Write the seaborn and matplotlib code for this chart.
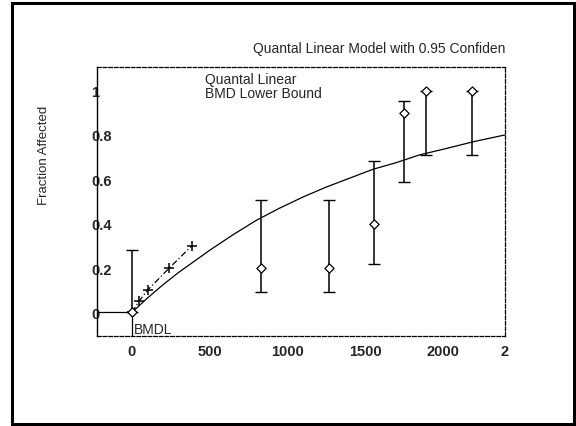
import numpy as np
import matplotlib
matplotlib.use("Agg")
import matplotlib.pyplot as plt
import seaborn as sns
from matplotlib.patches import Rectangle

# ============================================================
# DATA
# ============================================================

doses = [0, 830, 1270, 1560, 1750, 1890, 2185]
observed = [0.0, 0.2, 0.2, 0.4, 0.9, 1.0, 1.0]
ci_lower = [0.0, 0.09, 0.09, 0.22, 0.59, 0.71, 0.71]
ci_upper = [0.283, 0.507, 0.507, 0.684, 0.952, 1.0, 1.0]

fit_dose = [0, 100, 200, 300, 500, 650, 800, 950, 1100, 1250,
            1400, 1550, 1700, 1850, 2000, 2200, 2400]
fit_frac = [0.0, 0.065, 0.125, 0.18, 0.28, 0.35, 0.415, 0.47, 0.52, 0.565,
            0.605, 0.645, 0.675, 0.71, 0.735, 0.77, 0.80]

bmdl_dose = [0, 45, 100, 240, 385]
bmdl_frac = [0.0, 0.05, 0.1, 0.2, 0.3]

bmd_x = 0
bmr_level = 0.0

x_ticks = [0, 500, 1000, 1500, 2000, 2400]
x_tick_labels = ["0", "500", "1000", "1500", "2000", "2"]
y_ticks = [0, 0.2, 0.4, 0.6, 0.8, 1.0]
y_tick_labels = ["0", "0.2", "0.4", "0.6", "0.8", "1"]

# ============================================================
# STYLE
# ============================================================

sns.set_style("white")
plt.rcParams["font.family"] = ["Liberation Sans", "DejaVu Sans"]

fig = plt.figure(figsize=(5.76, 4.27), dpi=100)
ax = fig.add_axes([0.1684, 0.2115, 0.7083, 0.6286])

XMIN, XMAX = -225, 2400
YMIN, YMAX = -0.105, 1.105

# ============================================================
# PLOT
# ============================================================

# fitted quantal linear curve
sns.lineplot(x=fit_dose, y=fit_frac, ax=ax, color="black",
             linewidth=0.9, sort=False)

# BMD lower bound curve
sns.lineplot(x=bmdl_dose, y=bmdl_frac, ax=ax, color="black",
             linewidth=0.9, sort=False, linestyle=(0, (5, 2, 1, 2)),
             marker="+", markersize=7, markeredgewidth=1.1,
             markeredgecolor="black")

# confidence bars
ax.errorbar(
    doses, observed,
    yerr=[np.array(observed) - np.array(ci_lower),
          np.array(ci_upper) - np.array(observed)],
    fmt="none", ecolor="black", elinewidth=1.1, capsize=4, capthick=1.0
)

# observed fractions
sns.scatterplot(x=doses, y=observed, ax=ax, marker="D", s=22,
                facecolor="white", edgecolor="black", linewidth=0.9,
                zorder=5)

# BMDL indicator lines
ax.plot([XMIN, bmd_x], [bmr_level, bmr_level], color="black", linewidth=0.9)
ax.plot([bmd_x, bmd_x], [bmr_level, YMIN], color="black", linewidth=0.9)
ax.text(bmd_x + 10, -0.075, "BMDL", fontsize=10, ha="left", va="center")

# legend text
ax.text(0.264, 0.956, "Quantal Linear", transform=ax.transAxes,
        fontsize=10, ha="left", va="center")
ax.text(0.264, 0.903, "BMD Lower Bound", transform=ax.transAxes,
        fontsize=10, ha="left", va="center")

# ============================================================
# AXES
# ============================================================

ax.set_xlim(XMIN, XMAX)
ax.set_ylim(YMIN, YMAX)

ax.set_xticks(x_ticks)
ax.set_xticklabels(x_tick_labels, fontsize=10.5, fontweight="bold")
ax.set_yticks(y_ticks)
ax.set_yticklabels(y_tick_labels, fontsize=10.5, fontweight="bold")
for lbl in ax.get_yticklabels():
    lbl.set_horizontalalignment("left")

ax.tick_params(axis="x", length=0, pad=6)
ax.tick_params(axis="y", length=0, pad=4)

for side in ["top", "right", "bottom"]:
    ax.spines[side].set_linestyle((0, (3, 1.5)))
    ax.spines[side].set_linewidth(0.9)
    ax.spines[side].set_color("black")
ax.spines["left"].set_linewidth(1.0)
ax.spines["left"].set_color("black")

fig.text(0.877, 0.885, "Quantal Linear Model with 0.95 Confiden",
         fontsize=10, ha="right", va="center")
fig.text(0.077, 0.637, "Fraction Affected", fontsize=9.5,
         rotation=90, ha="center", va="center")

# outer frame of the scanned page
fig.patches.append(Rectangle((12 / 576, 1 - 425 / 427),
                             562 / 576, 421 / 427,
                             transform=fig.transFigure, fill=False,
                             edgecolor="black", linewidth=2.2))

fig.savefig("out.png", dpi=100)
